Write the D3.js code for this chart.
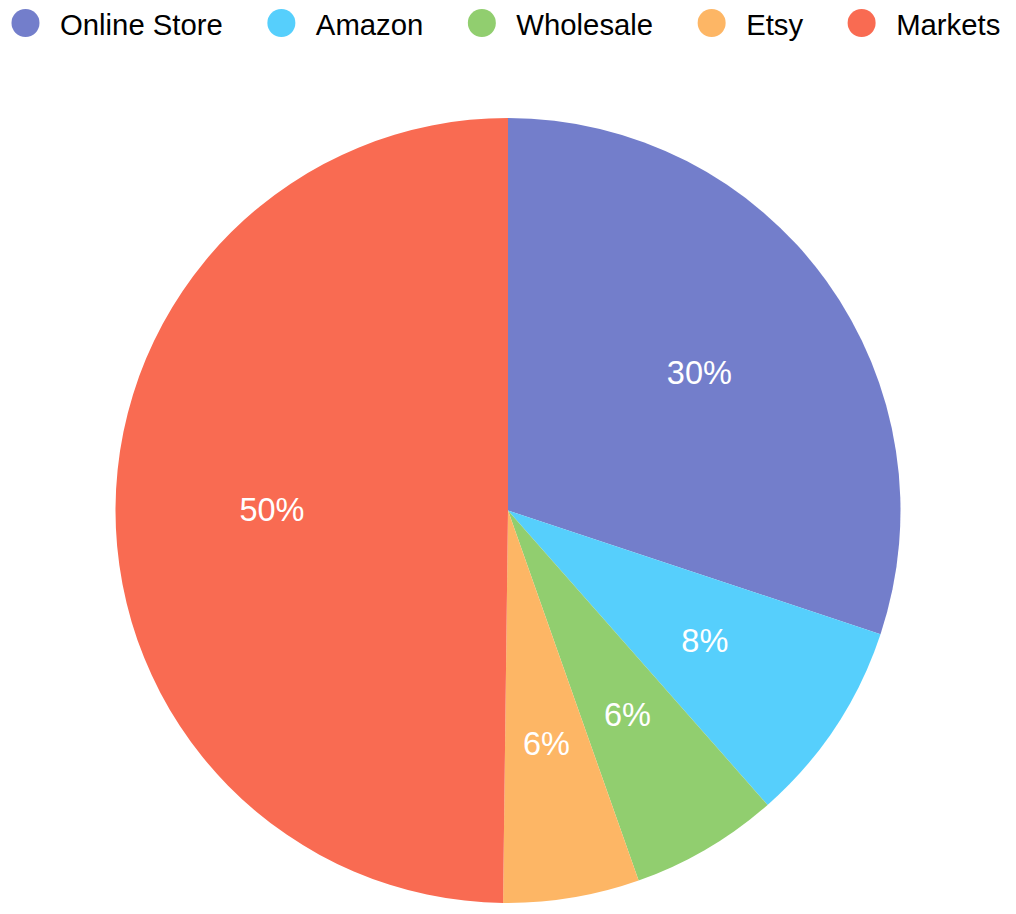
<!DOCTYPE html>
<html>
<head>
<meta charset="utf-8">
<script src="https://cdn.jsdelivr.net/npm/d3@7"></script>
<style>
  html, body { margin: 0; padding: 0; background: #ffffff; }
  svg { display: block; }
</style>
</head>
<body>
<svg id="chart" width="1016" height="914"></svg>
<script>
const categories = ["Online Store", "Amazon", "Wholesale", "Etsy", "Markets"];
const values = [30.1, 8.4, 6.1, 5.6, 49.8];
const colors = ["#737ECB", "#56CFFC", "#91CE6F", "#FDB665", "#F96B52"];

const W = 1016, H = 914;
const cx = 508, cy = 510.5, R = 392.5, labelR = 236;
const font = "'Liberation Sans', Arial, Helvetica, sans-serif";

const svg = d3.select("#chart");
const data = categories.map((c, i) => ({ name: c, value: values[i], color: colors[i] }));
const total = d3.sum(values);

const pie = d3.pie().value(d => d.value).sort(null);
const arcs = pie(data);
const arc = d3.arc().innerRadius(0).outerRadius(R);
const labelArc = d3.arc().innerRadius(labelR).outerRadius(labelR);

const g = svg.append("g").attr("transform", `translate(${cx},${cy})`);
g.selectAll("path.slice").data(arcs).join("path")
  .attr("class", "slice")
  .attr("d", arc)
  .attr("fill", d => d.data.color);

g.selectAll("text.lbl").data(arcs).join("text")
  .attr("class", "lbl")
  .attr("transform", d => `translate(${labelArc.centroid(d)})`)
  .attr("text-anchor", "middle")
  .attr("dy", "0.36em")
  .attr("fill", "#ffffff")
  .style("font-family", font)
  .style("font-size", "32.5px")
  .text(d => Math.round(d.data.value / total * 100) + "%");

// Legend
const legend = svg.append("g");
let cursor = 11;
data.forEach(d => {
  const item = legend.append("g");
  item.append("circle").attr("cx", cursor + 14.5).attr("cy", 23).attr("r", 14).attr("fill", d.color);
  const t = item.append("text")
    .attr("x", cursor + 49).attr("y", 35)
    .attr("fill", "#000000")
    .style("font-family", font)
    .style("font-size", "29.3px")
    .text(d.name);
  const w = t.node().getComputedTextLength();
  cursor = cursor + 49 + w + 44;
});
</script>
</body>
</html>
